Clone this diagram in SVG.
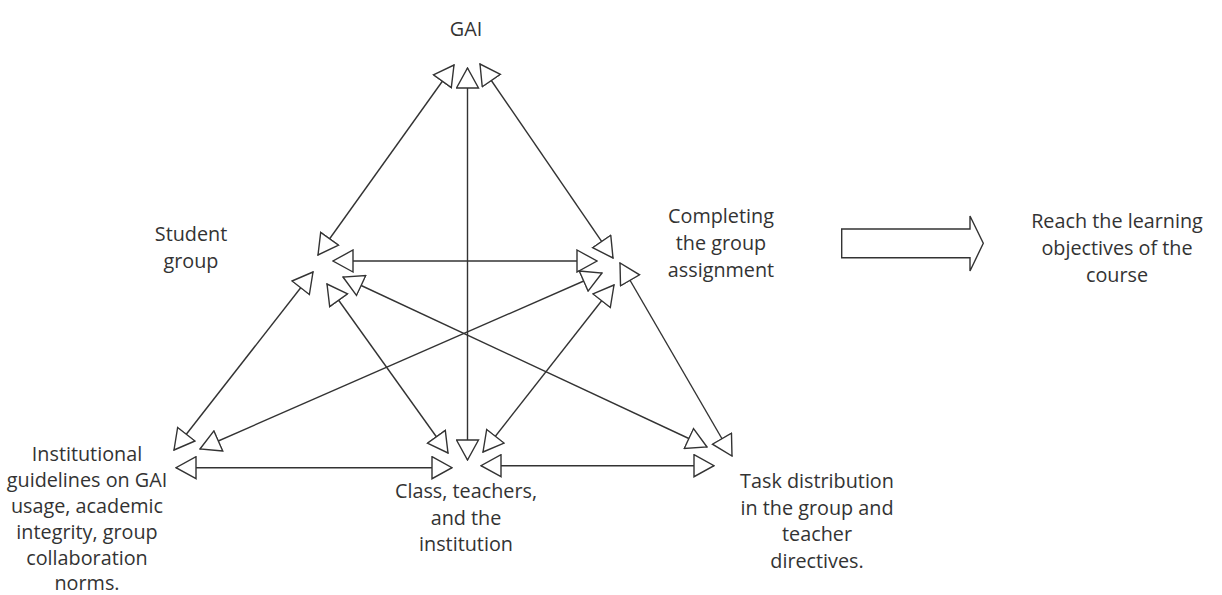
<svg xmlns="http://www.w3.org/2000/svg" width="1222" height="595" viewBox="0 0 1222 595">
<style>
.lbl{font-family:"Open Sans","Liberation Sans",sans-serif;font-size:19.8px;fill:#333;text-anchor:middle}
.ln{stroke:#333;stroke-width:1.4;fill:none}
</style>
<defs>
<marker id="ah" viewBox="-1 -1 22 24" markerUnits="userSpaceOnUse" markerWidth="22" markerHeight="24" refX="20" refY="11" orient="auto-start-reverse">
<path d="M0,0 L20,11 L0,22 Z" fill="#fff" stroke="#333" stroke-width="1.4" stroke-linejoin="miter"/>
</marker>
</defs>
<rect width="1222" height="595" fill="#fff"/>
<g id="connectors">
<line class="ln" x1="467.5" y1="460" x2="467.5" y2="68" marker-start="url(#ah)" marker-end="url(#ah)"/>
<line class="ln" x1="333" y1="261" x2="597" y2="261" marker-start="url(#ah)" marker-end="url(#ah)"/>
<line class="ln" x1="318" y1="255" x2="454" y2="65" marker-start="url(#ah)" marker-end="url(#ah)"/>
<line class="ln" x1="613" y1="258" x2="480" y2="64" marker-start="url(#ah)" marker-end="url(#ah)"/>
<line class="ln" x1="313" y1="272" x2="174" y2="450" marker-start="url(#ah)" marker-end="url(#ah)"/>
<line class="ln" x1="602" y1="273" x2="200" y2="449" marker-start="url(#ah)" marker-end="url(#ah)"/>
<line class="ln" x1="327" y1="284" x2="448" y2="453" marker-start="url(#ah)" marker-end="url(#ah)"/>
<line class="ln" x1="343" y1="277" x2="707" y2="447" marker-start="url(#ah)" marker-end="url(#ah)"/>
<line class="ln" x1="614" y1="285" x2="483" y2="452" marker-start="url(#ah)" marker-end="url(#ah)"/>
<line class="ln" x1="620" y1="263" x2="732" y2="456" marker-start="url(#ah)" marker-end="url(#ah)"/>
<line class="ln" x1="176" y1="467.7" x2="452" y2="467.7" marker-start="url(#ah)" marker-end="url(#ah)"/>
<line class="ln" x1="481" y1="465.7" x2="714" y2="465.7" marker-start="url(#ah)" marker-end="url(#ah)"/>
</g>
<g id="block-arrow">
<path d="M841.7,229 L970,229 L970,216 L983.3,243.3 L970,271 L970,257.7 L841.7,257.7 Z" fill="#fff" stroke="#333" stroke-width="1.4"/>
</g>
<g id="gai"><text class="lbl" x="466" y="36">GAI</text></g>
<g id="student-group"><text class="lbl" x="191" y="241">Student</text><text class="lbl" x="191" y="268">group</text></g>
<g id="completing"><text class="lbl" x="721" y="223">Completing</text><text class="lbl" x="721" y="250">the group</text><text class="lbl" x="721" y="277">assignment</text></g>
<g id="objectives"><text class="lbl" x="1117" y="228">Reach the learning</text><text class="lbl" x="1117" y="255">objectives of the</text><text class="lbl" x="1117" y="282">course</text></g>
<g id="institutional"><text class="lbl" x="87" y="461">Institutional</text><text class="lbl" x="87" y="487">guidelines on GAI</text><text class="lbl" x="87" y="513">usage, academic</text><text class="lbl" x="87" y="539">integrity, group</text><text class="lbl" x="87" y="565">collaboration</text><text class="lbl" x="87" y="590">norms.</text></g>
<g id="class"><text class="lbl" x="466" y="498">Class, teachers,</text><text class="lbl" x="466" y="524.5">and the</text><text class="lbl" x="466" y="551">institution</text></g>
<g id="task"><text class="lbl" x="817" y="488">Task distribution</text><text class="lbl" x="817" y="514.5">in the group and</text><text class="lbl" x="817" y="541">teacher</text><text class="lbl" x="817" y="567.5">directives.</text></g>
</svg>
